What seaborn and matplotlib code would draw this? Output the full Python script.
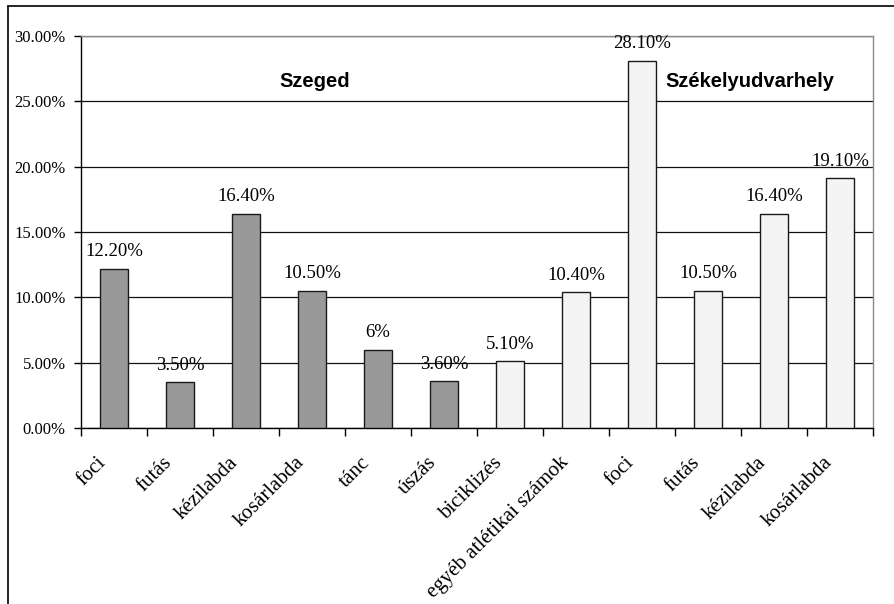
import matplotlib
matplotlib.use("Agg")
import matplotlib.pyplot as plt
from matplotlib.lines import Line2D
from matplotlib.ticker import FixedLocator, PercentFormatter
from matplotlib.transforms import ScaledTranslation
import seaborn as sns
import pandas as pd

# Sport preferences in two towns (percent of respondents)
sports = ["foci", "futás", "kézilabda", "kosárlabda", "tánc", "úszás",
          "biciklizés", "egyéb atlétikai számok", "foci", "futás",
          "kézilabda", "kosárlabda"]
values = [12.2, 3.5, 16.4, 10.5, 6.0, 3.6, 5.1, 10.4, 28.1, 10.5, 16.4, 19.1]
value_labels = ["12.20%", "3.50%", "16.40%", "10.50%", "6%", "3.60%",
                "5.10%", "10.40%", "28.10%", "10.50%", "16.40%", "19.10%"]
towns = ["Szeged"] * 6 + ["Székelyudvarhely"] * 6
town_titles = ["Szeged", "Székelyudvarhely"]
y_ticks = [0, 5, 10, 15, 20, 25, 30]

df = pd.DataFrame({"pos": list(range(len(sports))), "value": values, "town": towns})

sns.set_theme(style="white")
serif = ["Liberation Serif", "DejaVu Serif"]
sans = ["Liberation Sans", "DejaVu Sans"]

fig = plt.figure(figsize=(8.94, 6.04), dpi=100)
ax = fig.add_axes([81 / 894, 1 - 428 / 604, 792 / 894, 392 / 604])

sns.barplot(data=df, x="pos", y="value", hue="town",
            palette={"Szeged": "#999999", "Székelyudvarhely": "#f4f4f4"},
            dodge=False, width=0.41, legend=False, ax=ax,
            edgecolor="#1a1a1a", linewidth=1.0, zorder=3)

ax.set_ylim(0, 30)
ax.set_xlim(-0.5, len(sports) - 0.5)
ax.yaxis.set_major_locator(FixedLocator(y_ticks))
ax.yaxis.set_major_formatter(PercentFormatter(decimals=2))
ax.grid(axis="y", color="#111111", linewidth=0.9, zorder=0)
ax.set_axisbelow(True)

ax.set_xticks(range(len(sports)))
ax.set_xticklabels(sports, rotation=45, ha="right", va="center",
                   rotation_mode="anchor", family=serif, fontsize=15)
ax.set_xticks([i - 0.5 for i in range(len(sports) + 1)], minor=True)
ax.tick_params(axis="x", which="major", length=0, pad=23)
ax.tick_params(axis="x", which="minor", length=6, width=1, color="black",
               direction="out", bottom=True)
ax.tick_params(axis="y", length=5, width=1, color="black", direction="out", left=True,
               pad=6)
shift = ScaledTranslation(-7.5 / 72, 0, fig.dpi_scale_trans)
for lab in ax.get_xticklabels():
    lab.set_color("black")
    lab.set_transform(lab.get_transform() + shift)
for lab in ax.get_yticklabels():
    lab.set_family(serif)
    lab.set_fontsize(12)
    lab.set_color("black")

ax.set_xlabel("")
ax.set_ylabel("")

for side in ("left", "bottom"):
    ax.spines[side].set_color("black")
    ax.spines[side].set_linewidth(1.0)
for side in ("top", "right"):
    ax.spines[side].set_color("#8a8a8a")
    ax.spines[side].set_linewidth(1.0)
    ax.spines[side].set_visible(True)

for bar, txt in zip(ax.patches, value_labels):
    x = bar.get_x() + bar.get_width() / 2
    ax.annotate(txt, (x, bar.get_height()), xytext=(0, 6),
                textcoords="offset points", ha="center", va="bottom",
                family=serif, fontsize=13.5, color="black", zorder=5)

ax.text(3.04, 26.5, town_titles[0], ha="center", va="center",
        family=sans, fontweight="bold", fontsize=14.5, color="black")
ax.text(9.63, 26.5, town_titles[1], ha="center", va="center",
        family=sans, fontweight="bold", fontsize=14.5, color="black")

# outer frame: top and left edges
fig.add_artist(Line2D([8 / 894, 1.0], [1 - 6 / 604, 1 - 6 / 604],
                      transform=fig.transFigure, color="black", linewidth=1.2))
fig.add_artist(Line2D([8 / 894, 8 / 894], [0, 1 - 6 / 604],
                      transform=fig.transFigure, color="black", linewidth=1.2))

fig.savefig("out.png", dpi=100)
